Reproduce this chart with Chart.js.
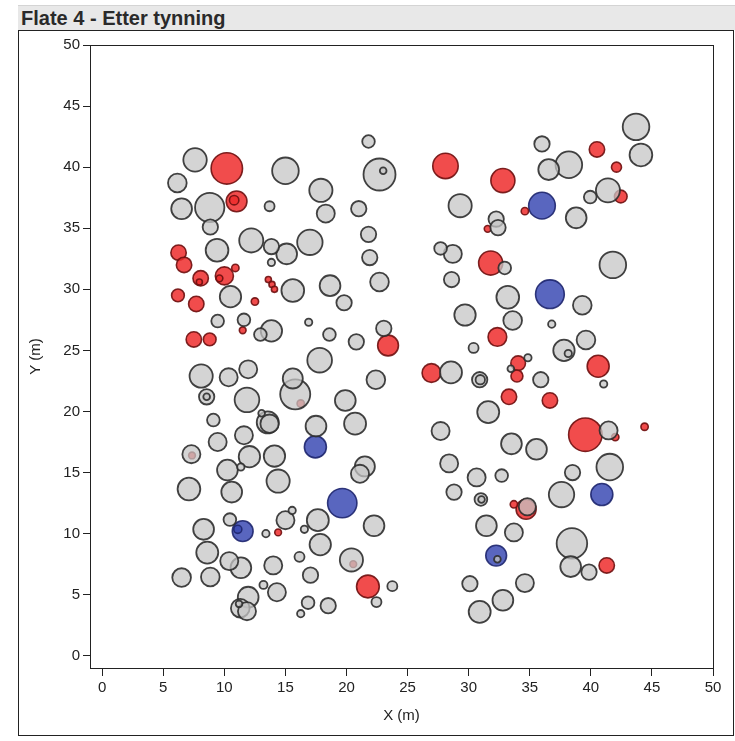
<!DOCTYPE html>
<html>
<head>
<meta charset="utf-8">
<script src="https://cdn.jsdelivr.net/npm/chart.js@4"></script>
<style>
  body { margin: 0; background: #fff; width: 735px; height: 741px; position: relative; overflow: hidden; font-family: "Liberation Sans", Arial, sans-serif; }
  .tittel { position: absolute; left: 18px; top: 5px; width: 717px; height: 25px; background: #e8e8e8; border-top: 1px solid #d4d4d4; box-sizing: border-box; font-weight: bold; font-size: 20px; color: #2a2a2a; line-height: 24px; padding-left: 3px; }
  .panel { position: absolute; left: 18px; top: 30px; width: 716px; height: 706px; border: 1px solid #222; box-sizing: border-box; }
  canvas { position: absolute; left: 0; top: 0; }
  #feil { position: absolute; left: 120px; top: 300px; color: red; font-size: 12px; }
</style>
</head>
<body>
<div class="tittel">Flate 4 - Etter tynning</div>
<div class="panel"></div>
<canvas id="grafico" width="735" height="741"></canvas>
<div id="feil"></div>
<script>
// trær som står igjen (grå)
const graaX = [7.6, 15.0, 21.8, 22.7, 23.0, 6.15, 17.9, 6.5, 8.8, 13.7, 18.3, 21.0, 8.85, 12.2, 13.85, 15.1, 17.0, 21.8, 21.9, 9.4,
  13.85, 22.7, 18.65, 15.6, 10.5, 19.8, 9.45, 11.6, 12.95, 13.85, 16.9, 18.6, 20.8, 23.05, 17.8, 8.1, 10.35, 11.95, 15.6, 15.8,
  22.4, 8.55, 8.55, 11.85, 19.9, 9.1, 13.55, 13.7, 13.05, 17.5, 20.7, 9.45, 11.6, 7.3, 12.05, 14.1, 10.25, 11.35, 7.1, 10.6,
  14.4, 21.5, 21.1, 22.25, 10.45, 8.3, 13.4, 15.0, 15.55, 16.55, 17.65, 17.85, 8.6, 10.4, 11.35, 14.0, 16.15, 20.4, 17.05, 6.5,
  8.85, 23.75, 22.45, 13.2, 14.3, 11.95, 11.3, 11.2, 11.85, 16.85, 18.5, 16.25,
  43.7, 44.1, 36.0, 38.2, 36.55, 41.4, 39.95, 29.3, 38.8, 32.25, 32.4, 27.7, 28.7, 32.95, 41.8, 28.6, 33.2, 39.3, 29.7, 33.6,
  36.8, 39.6, 30.4, 37.8, 38.15, 41.05, 28.55, 30.9, 30.95, 34.85, 33.45, 35.9, 31.6, 41.45, 27.7, 33.5, 35.55, 28.4, 41.55, 30.65,
  32.7, 38.5, 28.8, 31.0, 31.05, 37.6, 34.8, 31.45, 33.7, 38.45, 32.35, 38.35, 39.85, 30.1, 34.6, 32.8, 30.9];
const graaY = [40.6, 39.7, 42.1, 39.4, 39.7, 38.7, 38.1, 36.6, 36.7, 36.8, 36.2, 36.6, 35.1, 34.0, 33.5, 32.9, 33.85, 34.5, 32.6, 33.2,
  32.2, 30.6, 30.3, 29.9, 29.4, 28.9, 27.4, 27.5, 26.3, 26.6, 27.3, 26.3, 25.7, 26.8, 24.2, 22.9, 22.8, 23.45, 22.7, 21.4,
  22.6, 21.2, 21.2, 20.95, 20.9, 19.3, 19.1, 19.0, 19.85, 18.8, 19.0, 17.5, 18.05, 16.5, 16.3, 16.35, 15.2, 15.45, 13.65, 13.4,
  14.3, 15.5, 14.9, 10.65, 11.15, 10.35, 10.0, 11.1, 11.9, 10.35, 11.1, 9.1, 8.45, 7.75, 7.2, 7.4, 8.1, 7.85, 6.6, 6.4,
  6.45, 5.7, 4.4, 5.8, 5.2, 4.8, 3.9, 4.25, 3.65, 4.35, 4.1, 3.45,
  43.3, 41.0, 41.9, 40.2, 39.8, 38.1, 37.55, 36.85, 35.85, 35.75, 35.05, 33.35, 32.9, 31.75, 32.0, 30.8, 29.35, 28.7, 27.9, 27.45,
  27.15, 25.85, 25.2, 25.0, 24.75, 22.25, 23.2, 22.6, 22.6, 24.4, 23.5, 22.6, 19.95, 18.45, 18.4, 17.35, 16.9, 15.75, 15.45, 14.6,
  14.75, 15.0, 13.4, 12.8, 12.8, 13.2, 12.2, 10.65, 10.1, 9.2, 7.9, 7.3, 6.85, 5.9, 5.95, 4.55, 3.6];
const graaD = [1.92, 2.18, 1.03, 2.62, 0.55, 1.53, 1.9, 1.7, 2.4, 0.82, 1.48, 1.26, 1.26, 1.97, 1.26, 1.7, 2.08, 1.26, 1.26, 1.86,
  0.6, 1.53, 1.7, 1.86, 1.75, 1.26, 1.04, 1.04, 1.04, 1.75, 0.6, 1.04, 1.26, 1.26, 2.02, 1.9, 1.48, 1.48, 1.64, 2.46,
  1.53, 1.26, 0.55, 2.02, 1.7, 1.04, 1.8, 1.5, 0.55, 1.7, 1.8, 1.48, 1.48, 1.48, 1.75, 1.75, 1.7, 0.6, 1.86, 1.7,
  1.9, 1.64, 1.48, 1.7, 1.04, 1.7, 0.6, 1.48, 0.6, 0.6, 1.8, 1.75, 1.8, 1.48, 1.7, 1.48, 0.82, 1.9, 1.26, 1.53,
  1.53, 0.82, 0.82, 0.66, 1.48, 1.7, 1.53, 0.55, 1.48, 1.04, 1.26, 0.6,
  2.18, 1.86, 1.26, 2.18, 1.7, 1.97, 1.04, 1.9, 1.7, 1.26, 1.26, 1.04, 1.48, 1.04, 2.18, 1.26, 1.86, 1.53, 1.75, 1.53,
  0.6, 1.53, 0.82, 1.75, 0.6, 0.6, 1.8, 1.26, 0.77, 0.6, 0.55, 1.26, 1.8, 1.48, 1.48, 1.7, 1.7, 1.48, 2.18, 1.48,
  1.04, 1.26, 1.26, 1.04, 0.55, 2.08, 1.4, 1.7, 1.48, 2.5, 0.55, 1.7, 1.26, 1.26, 1.48, 1.7, 1.8];

// røde trær
const roedX = [10.2, 11.0, 10.8, 6.25, 6.7, 10.9, 10.0, 9.6, 8.06, 7.95, 13.6, 13.9, 14.1, 6.2, 7.7, 12.5, 11.5, 23.4, 7.5, 8.8,
  16.25, 7.35, 14.4, 20.55, 21.75,
  40.5, 42.1, 28.1, 32.8, 42.45, 34.6, 31.55, 31.8, 32.35, 40.6, 26.95, 34.05, 33.95, 33.3, 36.65, 39.55, 42.0, 44.4, 33.7, 34.7, 41.3];
const roedY = [39.9, 37.2, 37.3, 33.0, 32.0, 31.75, 31.1, 30.9, 30.9, 30.6, 30.8, 30.4, 30.0, 29.5, 28.8, 29.0, 26.65, 25.4, 25.9, 25.9,
  20.65, 16.4, 10.1, 7.5, 5.67,
  41.45, 40.0, 40.1, 38.9, 37.6, 36.4, 34.95, 32.15, 26.1, 23.7, 23.15, 23.95, 22.9, 21.2, 20.9, 18.1, 17.9, 18.75, 12.4, 12.0, 7.4];
const roedD = [2.57, 1.7, 0.77, 1.26, 1.26, 0.6, 1.48, 0.55, 1.26, 0.5, 0.5, 0.5, 0.5, 1.04, 1.26, 0.6, 0.55, 1.7, 1.26, 1.04,
  0.6, 0.55, 0.55, 0.55, 1.86,
  1.26, 0.82, 2.08, 1.97, 1.04, 0.6, 0.55, 1.97, 1.53, 1.8, 1.53, 1.2, 0.98, 1.26, 1.26, 2.74, 0.6, 0.6, 0.6, 1.64, 1.26];

// blå trær
const blaaX = [36.0, 36.65, 17.45, 19.65, 11.5, 11.1, 40.9, 32.25];
const blaaY = [36.85, 29.6, 17.1, 12.5, 10.2, 10.35, 13.2, 8.2];
const blaaD = [2.18, 2.35, 1.8, 2.4, 1.7, 0.66, 1.8, 1.7];

const xTicks = [0, 5, 10, 15, 20, 25, 30, 35, 40, 45, 50];
const yTicks = [0, 5, 10, 15, 20, 25, 30, 35, 40, 45, 50];

const canvas = document.querySelector('#grafico');
const fontFamily = '"Liberation Sans", Arial, sans-serif';

const lagPunkter = (xs, ys, ds) =>
  xs.map((x, i) => ({ x: x, y: ys[i], d: ds[i], r: 0 })).sort((a, b) => b.d - a.d);

const ramme = {
  id: 'ramme',
  beforeDatasetsDraw(chart) {
    const a = chart.chartArea;
    const c = chart.ctx;
    c.save();
    c.strokeStyle = '#222';
    c.lineWidth = 1;
    c.strokeRect(Math.round(a.left) + 0.5, Math.round(a.top) + 0.5, Math.round(a.width), Math.round(a.height));
    c.restore();
  }
};

const config = {
  type: 'bubble',
  data: {
    datasets: [
      {
        label: 'Grå',
        data: lagPunkter(graaX, graaY, graaD),
        backgroundColor: 'rgba(198,198,198,0.75)',
        borderColor: 'rgba(45,45,45,0.9)',
        borderWidth: 1.8
      },
      {
        label: 'Rød',
        data: lagPunkter(roedX, roedY, roedD),
        backgroundColor: 'rgba(238,45,45,0.85)',
        borderColor: 'rgba(110,15,15,0.9)',
        borderWidth: 1.6
      },
      {
        label: 'Blå',
        data: lagPunkter(blaaX, blaaY, blaaD),
        backgroundColor: 'rgba(60,75,180,0.85)',
        borderColor: 'rgba(30,38,110,0.9)',
        borderWidth: 1.6
      }
    ]
  },
  options: {
    responsive: false,
    animation: false,
    layout: { padding: { left: 27, top: 45, right: 22, bottom: 15 } },
    plugins: {
      legend: { display: false },
      tooltip: { enabled: false }
    },
    scales: {
      x: {
        type: 'linear',
        min: -1,
        max: 50,
        afterBuildTicks: (s) => { s.ticks = xTicks.map((v) => ({ value: v })); },
        afterFit: (s) => { s.height = 58; },
        grid: { drawOnChartArea: false, drawTicks: true, tickLength: 8, color: '#222', lineWidth: 1 },
        border: { display: false },
        ticks: { color: '#222', font: { size: 15, family: fontFamily }, padding: 3, maxRotation: 0, autoSkip: false },
        title: { display: true, text: 'X (m)', color: '#222', font: { size: 15, family: fontFamily }, padding: { top: 0, bottom: 1 } }
      },
      y: {
        type: 'linear',
        min: -1,
        max: 50,
        afterBuildTicks: (s) => { s.ticks = yTicks.map((v) => ({ value: v })); },
        afterFit: (s) => { s.width = 63; },
        grid: { drawOnChartArea: false, drawTicks: true, tickLength: 7, color: '#222', lineWidth: 1 },
        border: { display: false },
        ticks: { color: '#222', font: { size: 15, family: fontFamily }, padding: 3, autoSkip: false },
        title: { display: true, text: 'Y (m)', color: '#222', font: { size: 15, family: fontFamily }, padding: { top: 0, bottom: 0 } }
      }
    }
  },
  plugins: [ramme]
};

try {
  let myChart = new Chart(canvas, config);
  // diameter i meter -> radius i piksler via x-skalaen
  const sx = myChart.scales.x;
  const pxPerM = Math.abs(sx.getPixelForValue(1) - sx.getPixelForValue(0));
  myChart.data.datasets.forEach((ds) => {
    ds.data = ds.data.map((p) => ({ x: p.x, y: p.y, d: p.d, r: p.d / 2 * pxPerM }));
  });
  myChart.update();
} catch (error) {
  console.error(error);
  document.querySelector('#feil').textContent = String(error);
}
</script>
</body>
</html>
